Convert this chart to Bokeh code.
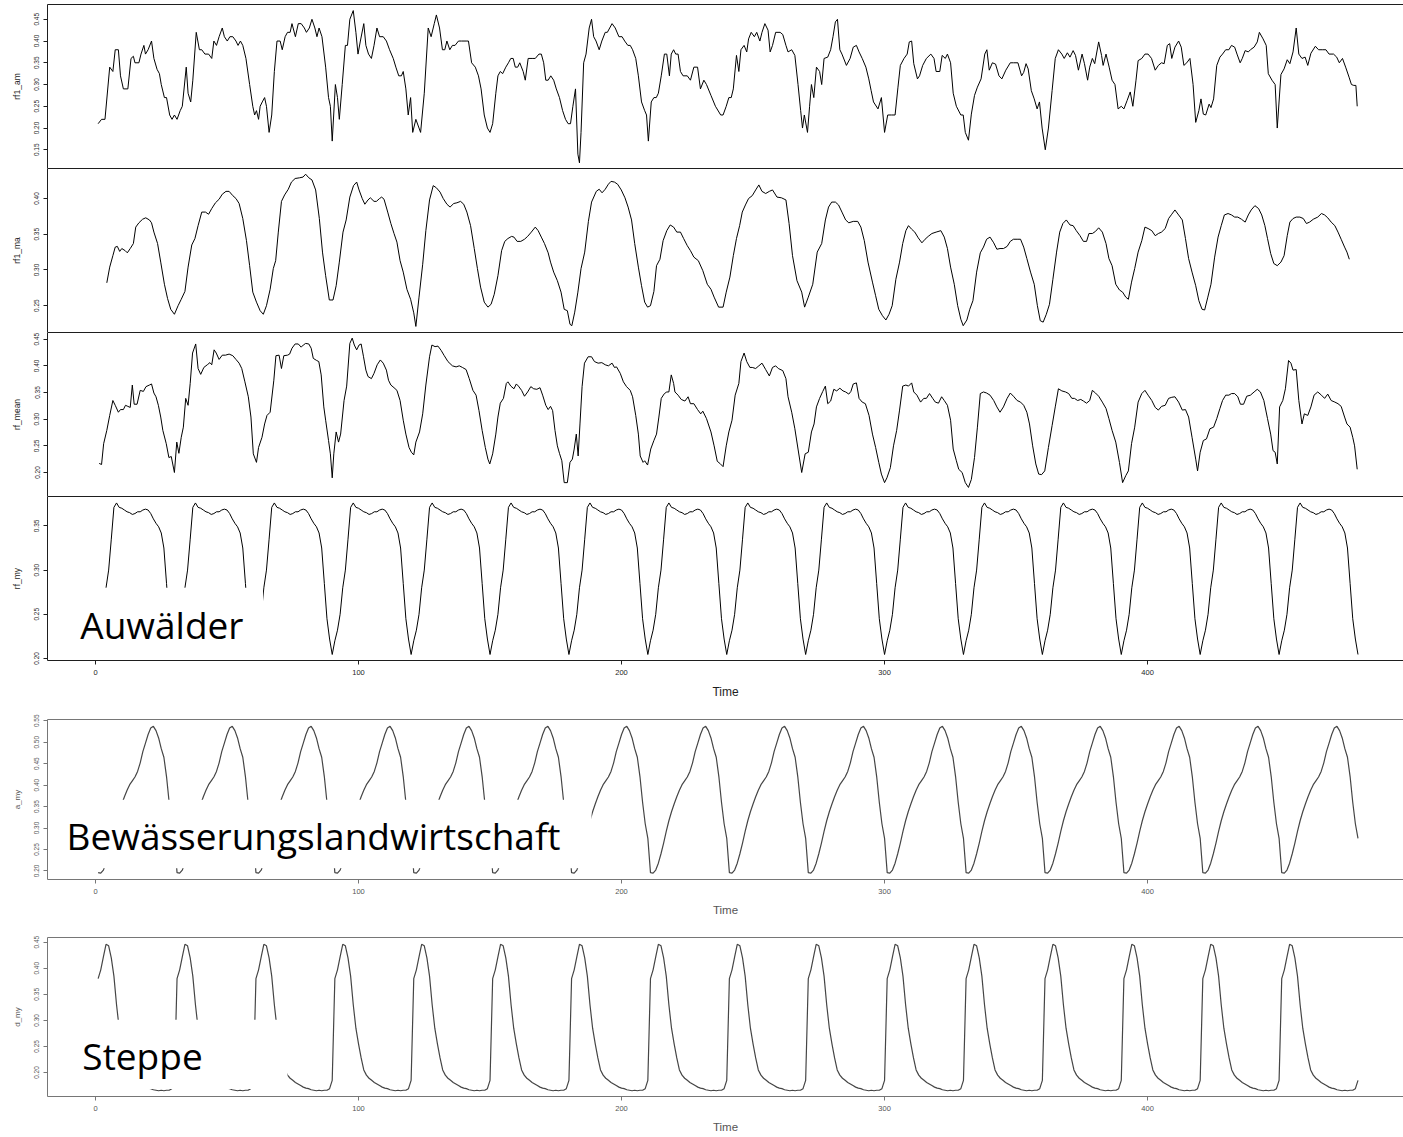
from bokeh.plotting import figure
from bokeh.layouts import column
from bokeh.models import Range1d, FixedTicker, BoxAnnotation, Label, PrintfTickFormatter, LinearAxis
from bokeh.embed import file_html
from bokeh.resources import INLINE
from bokeh.core.properties import value

# ---------------- data ----------------
# (time, value) pairs traced from the irregular series
rf1_am_pts = [
    (1,0.21),(2.3,0.22),(3.6,0.22),(5.4,0.34),(6.6,0.33),(7.5,0.38),(8.7,0.38),(9.5,0.32),(10.6,0.29),(12.3,0.29),
    (13.5,0.36),(14.4,0.365),(15,0.35),(16.5,0.35),(17.3,0.37),(18.4,0.39),(19,0.37),(20,0.38),(21.3,0.40),(22.2,0.36),
    (23.4,0.335),(24.3,0.325),(25,0.30),(26.2,0.27),(27,0.27),(28.2,0.23),(29.1,0.22),(30,0.23),(31,0.22),(32.2,0.24),
    (33,0.25),(34.5,0.34),(35.2,0.28),(36.2,0.26),(37,0.31),(38.3,0.42),(39.5,0.38),(40.4,0.38),(41.6,0.37),(43,0.37),
    (44.2,0.36),(45,0.40),(46,0.39),(47,0.41),(48.2,0.43),(49,0.41),(50.1,0.40),(51.1,0.41),(52.2,0.41),(53.4,0.40),
    (54.2,0.39),(55.1,0.40),(56,0.39),(57.2,0.36),(58.6,0.30),(59.8,0.25),(60.5,0.23),(61.2,0.24),(62,0.22),(62.6,0.25),
    (63.4,0.26),(64.3,0.27),(65,0.25),(66,0.19),(67,0.23),(68,0.33),(69,0.40),(70.2,0.40),(71,0.38),(72.1,0.41),
    (73,0.42),(74,0.42),(74.7,0.44),(76,0.41),(77.1,0.44),(78.2,0.44),(79.4,0.43),(80.2,0.42),(81.3,0.43),(82.3,0.45),
    (83.4,0.43),(84.2,0.41),(85,0.43),(86.1,0.41),(87.5,0.34),(88.6,0.27),(89.3,0.25),(90,0.17),(91.2,0.30),(92,0.27),
    (92.7,0.22),(93.8,0.30),(95,0.39),(95.8,0.39),(96.7,0.45),(98,0.47),(99,0.42),(99.8,0.37),(100.7,0.40),(102,0.44),
    (102.8,0.39),(103.8,0.37),(104.9,0.36),(105.9,0.39),(107,0.43),(108,0.41),(109.4,0.41),(110.6,0.40),(111.8,0.38),(113.2,0.36),
    (114.2,0.34),(115.3,0.32),(116.3,0.32),(117,0.33),(118,0.29),(118.9,0.23),(119.8,0.27),(120.6,0.19),(121.8,0.22),(123.6,0.19),
    (125,0.28),(126.5,0.43),(127.6,0.41),(128.8,0.44),(129.6,0.46),(130.8,0.43),(131.9,0.38),(132.8,0.38),(133.6,0.40),(134.7,0.38),
    (135.7,0.39),(136.7,0.39),(138,0.40),(139.2,0.40),(140.9,0.40),(141.8,0.40),(143,0.35),(144.4,0.34),(145.6,0.32),(146.6,0.29),
    (147.8,0.23),(149,0.20),(150,0.19),(151,0.21),(152.2,0.28),(153,0.32),(153.9,0.33),(154.8,0.325),(156,0.34),(157,0.35),
    (157.9,0.36),(158.8,0.36),(159.6,0.34),(160.5,0.34),(161.3,0.35),(162.6,0.33),(163.4,0.31),(164.5,0.36),(166,0.36),(167.2,0.36),
    (168.6,0.37),(169.5,0.37),(170.4,0.35),(171.2,0.31),(172.1,0.31),(173.1,0.32),(174.2,0.31),(175.2,0.29),(176.4,0.27),(177.6,0.24),
    (178.7,0.22),(179.7,0.21),(180.6,0.21),(181.5,0.25),(182.5,0.29),(183.4,0.14),(184,0.12),(184.6,0.19),(185.6,0.35),(186.5,0.37),
    (187.7,0.43),(188.6,0.45),(189.4,0.41),(190.3,0.40),(191.5,0.38),(192.5,0.40),(193.8,0.42),(194.6,0.42),(195.5,0.43),(196.4,0.44),
    (197.6,0.43),(199,0.41),(200.2,0.41),(201.2,0.40),(202.4,0.39),(203.3,0.39),(204.2,0.38),(205.4,0.36),(206.4,0.32),(207.6,0.26),
    (208.8,0.24),(209.5,0.23),(210.2,0.17),(211.3,0.26),(212.3,0.27),(213.2,0.27),(214,0.28),(215.1,0.32),(216.3,0.37),(217.2,0.37),
    (218.2,0.32),(218.9,0.37),(219.8,0.38),(220.6,0.37),(221.5,0.37),(222.4,0.33),(223.4,0.32),(225,0.32),(226.2,0.31),
    (227.5,0.34),(228.9,0.34),(230,0.29),(231.3,0.31),(232.3,0.30),(234,0.275),(235.7,0.25),(237.7,0.23),(238.6,0.23),(239.8,0.25),
    (240.8,0.27),(241.7,0.27),(242.5,0.29),(243.7,0.367),(244.6,0.33),(245.4,0.38),(246.6,0.39),(247.6,0.375),(248.3,0.405),(249.3,0.42),
    (250.5,0.41),(251.4,0.42),(252.6,0.40),(253.4,0.42),(254.5,0.44),(255.7,0.425),(256.5,0.375),(257.4,0.39),(258.6,0.42),(260.3,0.42),
    (261.3,0.415),(262.5,0.39),(263.3,0.375),(264.7,0.38),(265.9,0.367),(267.1,0.30),(268.1,0.24),(268.8,0.20),(269.5,0.23),(270.7,0.19),
    (271.5,0.25),(272.2,0.30),(273.1,0.27),(274.1,0.34),(275.3,0.33),(276.1,0.30),(277,0.36),(278.4,0.363),(279.5,0.38),(280.4,0.41),
    (281.3,0.444),(282.1,0.45),(283,0.38),(283.8,0.37),(285.5,0.344),(286.9,0.36),(288.1,0.386),(289.3,0.39),(290.3,0.375),(291.5,0.36),
    (292.9,0.34),(294,0.313),(294.9,0.286),(295.8,0.26),(297.5,0.244),(298.8,0.27),(300,0.19),(301.2,0.23),(302.6,0.23),(304,0.23),
    (305.1,0.294),(306,0.344),(307.4,0.36),(308.6,0.37),(309.4,0.398),(310.3,0.40),(311.1,0.348),(312.5,0.313),(313.3,0.32),(314.5,0.344),
    (315.9,0.36),(317.6,0.37),(318.8,0.36),(319.6,0.33),(321,0.33),(321.9,0.367),(323.1,0.36),(323.9,0.37),(325.1,0.35),(326.1,0.28),
    (327.3,0.25),(329,0.23),(329.9,0.23),(330.7,0.19),(331.9,0.172),(333,0.232),(334.2,0.275),(335.3,0.294),(336.7,0.313),(338.1,0.37),
    (338.9,0.38),(339.8,0.333),(341,0.35),(342.2,0.347),(343.5,0.32),(344.6,0.313),(346.1,0.333),(347.8,0.35),(349,0.35),(350.7,0.35),
    (352.1,0.32),(352.9,0.328),(353.8,0.348),(354.6,0.336),(355.8,0.286),(356.9,0.267),(358,0.244),(358.9,0.26),(359.9,0.20),(361.1,0.15),
    (362.3,0.20),(363.7,0.286),(364.9,0.36),(366.1,0.38),(367.4,0.37),(368.3,0.36),(369.5,0.373),(370.5,0.363),(371.7,0.378),(372.6,0.367),
    (373.7,0.333),(375.1,0.37),(376,0.348),(377.2,0.31),(378,0.34),(379,0.36),(379.9,0.348),(381.4,0.398),(382.5,0.367),(383.1,0.344),
    (384.2,0.37),(385.4,0.34),(386.5,0.31),(387.6,0.30),(388.8,0.244),(390,0.25),(391,0.244),(392.2,0.263),(393.4,0.283),(394.4,0.25),
    (395.6,0.31),(396.4,0.355),(397.8,0.36),(399,0.37),(400.2,0.37),(401.5,0.36),(402.9,0.333),(404.1,0.344),(405.3,0.35),(406.3,0.348),
    (407.5,0.39),(408.4,0.394),(409.2,0.36),(410.4,0.386),(411.8,0.40),(412.8,0.386),(413.8,0.344),(414.9,0.35),(416.1,0.36),(417.3,0.30),
    (418.3,0.213),(419.5,0.24),(420.3,0.267),(421.2,0.232),(422.1,0.23),(423.4,0.255),(424.1,0.247),(425.1,0.267),(426.3,0.344),(427.5,0.363),
    (428.5,0.37),(429.7,0.38),(430.9,0.38),(431.9,0.39),(433.1,0.386),(434,0.37),(435.2,0.35),(436,0.36),(437.1,0.378),(438.3,0.375),
    (439.1,0.38),(440.5,0.386),(441.7,0.398),(442.5,0.42),(443.9,0.405),(445.1,0.39),(445.9,0.325),(447.3,0.31),(448.5,0.30),(449.3,0.20),
    (450.7,0.323),(451.9,0.336),(453.1,0.357),(454.1,0.348),(455.3,0.375),(456.5,0.43),(457.5,0.37),(458.7,0.36),(459.9,0.363),(460.9,0.344),
    (462.1,0.372),(463.8,0.388),(465,0.38),(466.4,0.38),(467.8,0.38),(469,0.37),(470.7,0.37),(471.9,0.363),(472.9,0.35),(474.1,0.36),
    (475.3,0.34),(476.6,0.317),(477.5,0.30),(478.4,0.298),(479.2,0.298),(479.7,0.25),
]

rf1_ma_pts = [
    (4.3,0.282),(5.4,0.304),(6.6,0.32),(7.5,0.332),(8.3,0.333),(9.2,0.326),(10,0.33),(11.3,0.327),(12.1,0.324),(13.2,0.33),
    (14.4,0.337),(15.3,0.36),(16.5,0.366),(17.9,0.371),(19.1,0.373),(20.5,0.37),(21.3,0.366),(22.2,0.353),(23.6,0.337),(24.8,0.311),
    (26.2,0.28),(27.4,0.26),(28.6,0.245),(30,0.238),(31.4,0.25),(32.6,0.259),(34,0.27),(35.2,0.304),(36.6,0.335),(37.8,0.344),
    (39,0.362),(40.4,0.381),(41.8,0.381),(43,0.378),(44.2,0.386),(45.6,0.394),(47,0.399),(48.2,0.406),(49.6,0.41),(50.8,0.41),
    (52.2,0.404),(53.4,0.40),(54.6,0.393),(56,0.372),(57.4,0.341),(58.6,0.306),(59.8,0.269),(61.2,0.255),(62.6,0.243),(63.8,0.238),
    (65,0.25),(66.4,0.273),(67.6,0.302),(68.5,0.313),(69.5,0.353),(70.7,0.396),(71.9,0.405),(73.3,0.413),(74.5,0.423),(75.9,0.428),
    (77.6,0.429),(78.9,0.43),(79.9,0.434),(81.1,0.429),(82.3,0.426),(83.7,0.412),(85.1,0.372),(86.3,0.325),(87.5,0.292),(88.9,0.258),
    (90.3,0.258),(91.5,0.278),(92.7,0.311),(94.1,0.353),(95.3,0.37),(96.7,0.402),(98.1,0.418),(99.3,0.423),(100.2,0.412),(101.4,0.40),
    (102.4,0.392),(103.6,0.398),(104.5,0.401),(105.9,0.396),(106.8,0.396),(108,0.40),(108.8,0.402),(109.7,0.399),(111.1,0.381),(112.3,0.365),
    (113.5,0.351),(114.6,0.339),(115.8,0.313),(117,0.297),(118.4,0.273),(119.8,0.259),(121,0.24),(121.8,0.221),(123,0.262),(124.4,0.308),
    (125.6,0.355),(127,0.398),(128.4,0.418),(129.6,0.415),(131,0.409),(132.2,0.40),(133.6,0.392),(134.8,0.388),(136.2,0.393),(137.4,0.394),
    (138.8,0.396),(140,0.392),(141.2,0.381),(142.6,0.362),(144,0.33),(145.2,0.302),(146.4,0.276),(147.8,0.255),(149.2,0.248),(150.4,0.252),
    (151.6,0.266),(153,0.292),(154.4,0.327),(155.6,0.34),(156.8,0.344),(158.2,0.347),(159.1,0.346),(160.3,0.34),(161.7,0.34),(163.1,0.343),
    (164.3,0.347),(165.7,0.353),(167.2,0.36),(168.3,0.355),(169.5,0.346),(170.7,0.337),(172.1,0.324),(173,0.311),(174.2,0.297),(175.6,0.285),
    (177,0.269),(178.2,0.245),(179.4,0.243),(180.4,0.224),(181.1,0.222),(182.2,0.241),(183.4,0.269),(184.6,0.302),(186,0.325),(187.4,0.368),
    (188.6,0.395),(190.4,0.41),(191.5,0.413),(192.6,0.408),(193.8,0.413),(195,0.42),(196,0.424),(197.3,0.423),(198.5,0.42),(199.9,0.412),
    (201.3,0.401),(202.5,0.388),(203.8,0.37),(205,0.337),(206.4,0.304),(207.6,0.278),(208.8,0.255),(209.9,0.248),(211,0.25),(212.3,0.27),
    (213.3,0.306),(214.6,0.315),(215.8,0.341),(217.2,0.355),(218.5,0.363),(219.8,0.36),(221,0.353),(222.4,0.353),(223.6,0.344),(225,0.334),
    (226.2,0.327),
    (227.5,0.318),(229.2,0.313),(230.9,0.299),(232.6,0.28),(234,0.273),(235.2,0.262),(236.9,0.248),(238.6,0.248),(239.8,0.269),(241.2,0.29),
    (242.5,0.32),(243.7,0.344),(244.9,0.362),(245.9,0.381),(247.1,0.391),(248.3,0.40),(249.7,0.404),(251,0.412),(252.2,0.419),(253.4,0.41),
    (254.8,0.407),(256.2,0.41),(257.4,0.412),(259.1,0.402),(260.8,0.401),(262.5,0.398),(263.7,0.365),(265,0.32),(266.7,0.285),(268.5,0.269),
    (269.6,0.248),(271,0.262),(272.7,0.28),(274.4,0.325),(276.1,0.337),(277.5,0.37),(278.7,0.388),(279.9,0.395),(281.3,0.395),(282.5,0.391),
    (283.8,0.381),(285.2,0.37),(286.4,0.366),(288.1,0.368),(289.8,0.368),(291,0.36),(292.3,0.341),(293.7,0.311),(295.4,0.283),(296.6,0.264),
    (297.8,0.245),(299.2,0.236),(300.5,0.23),(301.7,0.238),(302.9,0.25),(304.3,0.287),(305.7,0.311),(306.9,0.337),(308.1,0.355),(309.1,0.362),
    (310.3,0.357),(311.5,0.353),(312.8,0.345),(314.2,0.338),(315.4,0.343),(316.6,0.347),(318,0.351),(319.6,0.353),(321.4,0.355),(322.7,0.346),
    (323.9,0.33),(325.1,0.304),(326.5,0.28),(327.8,0.25),(329,0.231),(329.9,0.222),(331.3,0.23),(332.4,0.245),(333.6,0.257),(335,0.297),
    (336.4,0.324),(337.6,0.332),(338.8,0.343),(340.1,0.346),(341.5,0.338),(342.7,0.329),(343.9,0.33),(345.2,0.33),(346.6,0.333),(347.8,0.34),
    (349,0.343),(350.4,0.343),(351.7,0.343),(352.9,0.332),(354.1,0.316),(355.5,0.297),(356.9,0.28),(358.1,0.25),(359.2,0.229),(360.3,0.227),
    (361.5,0.238),(362.7,0.252),(364,0.287),(365.4,0.325),(366.6,0.353),(367.8,0.365),(369.1,0.37),(370.5,0.363),(371.7,0.362),(372.9,0.355),
    (374.3,0.348),(375.6,0.34),(376.8,0.34),(377.7,0.351),(379,0.351),(380.2,0.354),(381.4,0.359),(382.8,0.353),(384.2,0.337),(385.3,0.316),
    (386.5,0.306),(387.9,0.28),(389.3,0.272),(390.5,0.269),(391.7,0.262),(392.7,0.259),(393.9,0.283),(395.1,0.302),(396.4,0.325),(397.8,0.341),
    (399,0.36),(400.2,0.358),(401.6,0.355),(402.9,0.348),(404.1,0.351),(405.3,0.353),(406.7,0.358),(408,0.372),(409.2,0.378),(410.4,0.384),
    (411.8,0.377),(413.2,0.37),(414.4,0.344),(415.6,0.316),(416.9,0.297),(418.3,0.278),(419.5,0.257),(420.7,0.245),(421.7,0.244),(422.9,0.262),
    (424.1,0.28),(425.5,0.318),(426.8,0.346),(428,0.362),(429.2,0.377),(430.6,0.379),(431.9,0.377),(433.1,0.374),(434.3,0.374),(435.7,0.371),
    (437.1,0.367),(438.3,0.377),(439.4,0.384),(440.8,0.39),(442.2,0.386),(443.4,0.377),(444.6,0.362),(445.6,0.344),(446.8,0.323),(448,0.309),
    (449.3,0.306),(450.7,0.311),(451.9,0.32),(453.1,0.348),(454.1,0.367),(455.3,0.372),(456.5,0.374),(457.9,0.374),(459.2,0.372),(460.4,0.365),
    (461.6,0.367),(463,0.371),(464.7,0.374),(466.1,0.379),(467.3,0.377),(468.5,0.373),(469.8,0.367),(471.2,0.362),(472.4,0.353),(473.6,0.343),
    (474.9,0.332),(475.8,0.325),(476.7,0.315),
]

rf_mean_pts = [
    (1.4,0.217),(2.3,0.215),(3.1,0.254),(4.3,0.279),(5.4,0.307),(6.6,0.335),(7.5,0.326),(8.7,0.313),(9.5,0.318),(10.6,0.318),
    (11.4,0.326),(12.3,0.324),(13.2,0.322),(14,0.364),(14.7,0.328),(15.8,0.328),(17,0.354),(18.2,0.352),(19.2,0.361),(20.5,0.364),
    (21.3,0.366),(22.2,0.349),(23,0.342),(23.9,0.326),(24.8,0.304),(25.6,0.279),(26.9,0.254),(27.9,0.228),(28.8,0.23),(30,0.20),
    (30.9,0.257),(31.7,0.236),(32.6,0.266),(33.4,0.285),(34.3,0.339),(35.2,0.326),(36,0.367),(36.9,0.424),(38.1,0.441),(39,0.395),
    (40,0.384),(41.2,0.397),(42.5,0.402),(43.5,0.406),(44.2,0.402),(45.1,0.43),(45.9,0.424),(47,0.412),(48.2,0.42),(49.4,0.42),
    (50.8,0.422),(52.2,0.419),(53.4,0.412),(54.6,0.405),(55.6,0.395),(56.8,0.37),(58.1,0.342),(59.1,0.304),(60,0.235),(61.2,0.219),
    (62,0.247),(63.3,0.266),(64.3,0.291),(65.2,0.307),(66.4,0.313),(67.8,0.373),(68.6,0.419),(69.8,0.42),(70.7,0.395),(71.6,0.419),
    (73,0.42),(73.8,0.422),(74.7,0.433),(75.9,0.441),(77.1,0.441),(78.2,0.435),(79,0.439),(79.9,0.442),(81.1,0.441),(82,0.433),
    (82.8,0.414),(84.1,0.41),(84.9,0.408),(85.8,0.383),(86.8,0.323),(87.5,0.298),(88.6,0.26),(89.3,0.235),(90,0.19),(90.6,0.235),
    (91.5,0.276),(92.4,0.257),(93.2,0.272),(94.5,0.335),(95.5,0.362),(96.7,0.442),(97.6,0.452),(98.4,0.439),(99.3,0.43),(100.2,0.439),
    (101,0.441),(101.9,0.417),(102.8,0.392),(103.6,0.38),(104.9,0.376),(105.9,0.386),(107.1,0.402),(108.3,0.411),(109.4,0.405),(110.6,0.392),
    (111.4,0.373),(112.3,0.364),(113.5,0.359),(114.6,0.354),(115.8,0.335),(117,0.298),(118,0.272),(119.2,0.247),(120.1,0.238),(121,0.233),
    (121.8,0.257),(123.2,0.276),(124.4,0.31),(125.6,0.364),(127,0.417),(127.9,0.439),(129.1,0.436),(130.2,0.437),(131.4,0.429),(132.6,0.419),
    (134,0.408),(135.7,0.40),(137.1,0.398),(138.3,0.40),(139.5,0.397),(140.9,0.393),(142.1,0.376),(143.5,0.354),(144.7,0.345),(145.8,0.316),
    (147,0.279),(148.2,0.247),(149.2,0.225),(149.9,0.216),(151,0.235),(152.2,0.272),(153,0.304),(153.9,0.33),(155.1,0.339),(156.2,0.367),
    (156.8,0.37),(157.9,0.362),(159.1,0.357),(160,0.366),(160.8,0.362),(162,0.354),(163.1,0.343),(164.3,0.351),(165.5,0.361),(166.6,0.357),
    (167.8,0.356),(169,0.359),(170,0.345),(171.2,0.326),(172.1,0.318),(173,0.324),(173.8,0.316),(174.7,0.279),(175.6,0.25),(176.4,0.236),
    (177.3,0.222),(178.2,0.181),(179.4,0.181),(180.4,0.219),(181.3,0.225),(182,0.244),(182.8,0.272),(183.5,0.231),(184.2,0.291),(185,0.361),
    (185.9,0.405),(187.3,0.417),(188.6,0.417),(189.7,0.408),(191.1,0.405),(192.5,0.406),(193.8,0.402),(195,0.40),(196.4,0.405),(197.3,0.397),
    (198.1,0.398),(199.5,0.386),(200.7,0.37),(201.9,0.361),(203.3,0.354),(204.2,0.342),(205.4,0.307),(206.4,0.272),(207.1,0.231),(208.2,0.219),
    (208.8,0.222),(209.9,0.214),(211.1,0.244),(212.3,0.26),(213.3,0.272),(214.2,0.304),(215.1,0.339),(216.3,0.348),(217.2,0.351),(218,0.351),
    (218.9,0.383),(219.8,0.367),(220.3,0.351),(221.5,0.345),(222.7,0.337),(224.1,0.334),(225.3,0.342),(226.2,0.329),
    (227.5,0.329),(228.9,0.318),(230.1,0.31),(230.9,0.315),(232.3,0.301),(234,0.276),(235.2,0.25),(236.4,0.221),(237.4,0.217),(238.6,0.211),
    (239.8,0.25),(240.8,0.276),(242,0.298),(243.2,0.345),(244.6,0.367),(245.4,0.408),(246.6,0.424),(247.6,0.408),(248.8,0.397),(249.7,0.397),
    (251,0.395),(252.2,0.40),(253.4,0.405),(254.8,0.393),(256.2,0.381),(257.4,0.397),(258.6,0.40),(259.6,0.395),(261.3,0.391),(262.5,0.376),
    (263.3,0.342),(264.7,0.313),(265.9,0.282),(267.1,0.244),(268.5,0.20),(269.8,0.235),(271,0.238),(272.2,0.276),(273.2,0.291),(274.1,0.323),
    (275.3,0.339),(276.5,0.352),(277.5,0.362),(278.4,0.329),(279.5,0.334),(280.7,0.356),(281.8,0.353),(283,0.358),(284.2,0.353),(285.2,0.351),
    (286.4,0.347),(287.2,0.352),(288.1,0.366),(289.3,0.368),(290.3,0.339),(291.5,0.332),(292.7,0.329),(294.1,0.307),(295.4,0.272),(296.6,0.247),
    (297.8,0.219),(298.8,0.197),(300,0.181),(300.9,0.19),(302.2,0.209),(303.4,0.25),(304.6,0.279),(305.7,0.317),(306.9,0.362),(308.1,0.364),
    (309.1,0.362),(310.3,0.368),(311.1,0.351),(312.3,0.345),(313.7,0.332),(314.9,0.339),(315.9,0.339),(317.1,0.348),(318.3,0.339),(319.3,0.332),
    (320.5,0.33),(321.7,0.342),(322.7,0.335),(323.9,0.326),(325.1,0.298),(326.1,0.244),(327.3,0.222),(328.2,0.206),(329.5,0.20),(330.7,0.181),
    (331.9,0.172),(333,0.187),(334.2,0.228),(335.3,0.285),(336.4,0.348),(337.6,0.351),(338.8,0.349),(340.1,0.345),(341.5,0.335),(342.7,0.323),
    (343.9,0.313),(345.2,0.323),(346.6,0.339),(347.8,0.349),(349,0.343),(350.4,0.335),(351.7,0.332),(352.9,0.326),(354.1,0.313),(355.1,0.291),
    (356.3,0.25),(357.5,0.216),(358.6,0.197),(359.7,0.196),(360.9,0.203),(362.3,0.247),(363.7,0.288),(364.9,0.323),(366.1,0.357),(367.4,0.353),
    (368.8,0.351),(370,0.348),(371.2,0.339),(372.2,0.339),(373.4,0.335),(374.6,0.337),(375.6,0.334),(376.8,0.33),(378,0.335),(379,0.354),
    (380.2,0.349),(381.4,0.343),(382.8,0.332),(384.2,0.32),(385.3,0.301),(386.5,0.279),(387.9,0.257),(389.3,0.219),(390.5,0.181),(391.7,0.194),
    (392.7,0.203),(393.9,0.254),(395.1,0.285),(396.4,0.332),(397.8,0.348),(399,0.354),(400.2,0.345),(401.6,0.335),(402.9,0.322),(404.1,0.317),
    (405.3,0.324),(406.7,0.326),(408,0.339),(409.2,0.341),(410.4,0.342),(411.8,0.332),(413.2,0.317),(414.4,0.318),(415.6,0.304),(416.9,0.266),
    (418.3,0.225),(419,0.203),(420,0.238),(421.2,0.26),(422.4,0.263),(423.7,0.282),(425.1,0.285),(426.3,0.301),(427.5,0.32),(428.5,0.335),
    (429.7,0.345),(430.9,0.345),(431.9,0.348),(433.1,0.348),(434.3,0.342),(435.3,0.328),(436.5,0.328),(437.7,0.343),(439.1,0.345),(440.5,0.351),
    (441.7,0.356),(442.9,0.351),(444.2,0.335),(445.6,0.301),(446.8,0.272),(447.7,0.241),(448.5,0.238),(449.3,0.216),(450.2,0.323),(451.4,0.335),
    (452.4,0.357),(453.6,0.41),(454.5,0.405),(455.3,0.392),(456.5,0.393),(457.5,0.335),(458.7,0.291),(459.6,0.31),(460.9,0.307),(462.1,0.323),
    (463.3,0.345),(464.7,0.351),(466.1,0.345),(467.3,0.339),(468.5,0.347),(469.8,0.335),(471.2,0.332),(472.4,0.329),(473.6,0.324),(474.9,0.304),
    (475.8,0.291),(477,0.285),(478,0.266),(478.7,0.25),(479.7,0.206),
]

# multi-year mean series: one 30-step cycle each (index = time mod 30)
rf_my_cycle = [0.2045, 0.220, 0.232, 0.250, 0.280, 0.300, 0.335, 0.371, 0.376, 0.371,
               0.370, 0.368, 0.366, 0.365, 0.363, 0.364, 0.366, 0.366, 0.368, 0.369,
               0.368, 0.364, 0.358, 0.353, 0.349, 0.342, 0.325, 0.285, 0.245, 0.222]
a_my_cycle = [0.276, 0.196, 0.195, 0.202, 0.218, 0.240, 0.265, 0.292, 0.317, 0.338,
              0.356, 0.373, 0.388, 0.401, 0.410, 0.419, 0.432, 0.452, 0.478, 0.498,
              0.518, 0.533, 0.537, 0.527, 0.510, 0.485, 0.465, 0.420, 0.360, 0.310]
d_my_cycle = [0.185, 0.380, 0.397, 0.422, 0.446, 0.443, 0.420, 0.385, 0.330, 0.285,
              0.255, 0.228, 0.205, 0.195, 0.189, 0.185, 0.181, 0.178, 0.175, 0.172,
              0.170, 0.169, 0.167, 0.166, 0.165, 0.166, 0.165, 0.166, 0.166, 0.169]

time = list(range(1, 481))
rf_my = [rf_my_cycle[t % 30] for t in time]
a_my = [a_my_cycle[t % 30] for t in time]
d_my = [d_my_cycle[t % 30] for t in time]

rf1_am_t = [p[0] for p in rf1_am_pts]; rf1_am = [p[1] for p in rf1_am_pts]
rf1_ma_t = [p[0] for p in rf1_ma_pts]; rf1_ma = [p[1] for p in rf1_ma_pts]
rf_mean_t = [p[0] for p in rf_mean_pts]; rf_mean = [p[1] for p in rf_mean_pts]

x_ticks = [0, 100, 200, 300, 400]

# ---------------- figures ----------------
W = 1403
X_START, X_END = -18.25, 497.3
shared_x = Range1d(X_START, X_END)
FONT = "Liberation Sans"


def make_fig(height, top, bottom, ylabel, yr, yticks, dark, show_x, x_range):
    fg = "#1e1e1e" if dark else "#767676"
    txt = "#1e1e1e" if dark else "#555555"
    p = figure(width=W, height=height, output_backend="svg", toolbar_location=None,
               x_range=x_range, y_range=Range1d(*yr),
               x_axis_location="below" if show_x else None,
               min_border_left=47, min_border_right=0,
               min_border_top=top, min_border_bottom=bottom)
    p.grid.visible = False
    p.outline_line_color = None
    p.background_fill_color = "white"
    p.border_fill_color = "white"
    ya = p.left[0]
    ya.ticker = FixedTicker(ticks=yticks)
    ya.formatter = PrintfTickFormatter(format="%.2f")
    ya.major_label_orientation = "vertical"
    ya.major_label_text_font = FONT
    ya.major_label_text_font_size = "6.5px"
    ya.major_label_text_color = txt
    ya.major_label_standoff = 4
    ya.major_tick_out = 4
    ya.major_tick_in = 0
    ya.minor_tick_line_color = None
    ya.major_tick_line_color = fg
    ya.axis_line_color = fg
    ya.axis_label = ylabel
    ya.axis_label_text_font = FONT
    ya.axis_label_text_font_size = "8.5px" if dark else "8px"
    ya.axis_label_text_font_style = "normal"
    ya.axis_label_text_color = txt
    ya.axis_label_standoff = 10
    if show_x:
        xa = p.below[0]
        xa.ticker = FixedTicker(ticks=x_ticks)
        xa.major_label_text_font = FONT
        xa.major_label_text_font_size = "7.5px"
        xa.major_label_text_color = txt
        xa.major_label_standoff = 5
        xa.major_tick_out = 4
        xa.major_tick_in = 0
        xa.minor_tick_line_color = None
        xa.major_tick_line_color = fg
        xa.axis_line_color = fg
        xa.axis_label = "Time"
        xa.axis_label_text_font = FONT
        xa.axis_label_text_font_size = "12px" if dark else "11.5px"
        xa.axis_label_text_font_style = "normal"
        xa.axis_label_text_color = txt
        xa.axis_label_standoff = 7
    # top frame line drawn as a bare axis (no ticks, no labels)
    top_ax = LinearAxis(ticker=FixedTicker(ticks=[]), axis_line_color=fg, axis_line_width=1,
                        major_tick_line_color=None, minor_tick_line_color=None,
                        major_label_text_font_size="0px", major_label_standoff=0,
                        major_tick_out=0, major_tick_in=0)
    p.add_layout(top_ax, "above")
    return p


p1 = make_fig(168, 4, 0, "rf1_am", (0.107, 0.484), [0.15, 0.20, 0.25, 0.30, 0.35, 0.40, 0.45], True, False, shared_x)
p1.line(rf1_am_t, rf1_am, line_color="black", line_width=1)

p2 = make_fig(164, 0, 0, "rf1_ma", (0.2125, 0.442), [0.25, 0.30, 0.35, 0.40], True, False, shared_x)
p2.line(rf1_ma_t, rf1_ma, line_color="black", line_width=1)

p3 = make_fig(164, 0, 0, "rf_mean", (0.155, 0.4625), [0.20, 0.25, 0.30, 0.35, 0.40, 0.45], True, False, shared_x)
p3.line(rf_mean_t, rf_mean, line_color="black", line_width=1)

p4 = make_fig(206, 0, 42, "rf_my", (0.1977, 0.3833), [0.20, 0.25, 0.30, 0.35], True, True, shared_x)
p4.line(time, rf_my, line_color="black", line_width=1)
p4.add_layout(BoxAnnotation(left=-17, right=63.7, bottom=0.1995, top=0.28,
                            fill_color="white", fill_alpha=1.0, line_color=None))
p4.add_layout(Label(x=-5.8, y=0.2384, text="Auwälder", text_font="Open Sans",
                    text_font_size="37px", text_color="black", text_baseline="alphabetic"))

pa = make_fig(217, 17, 40, "a_my", (0.18, 0.553), [0.20, 0.25, 0.30, 0.35, 0.40, 0.45, 0.50, 0.55],
              False, True, Range1d(X_START, X_END))
pa.line(time, a_my, line_color="#454545", line_width=1.2)
pa.add_layout(BoxAnnotation(left=-17, right=188.6, bottom=0.2065, top=0.366,
                            fill_color="white", fill_alpha=1.0, line_color=None))
pa.add_layout(Label(x=-11.0, y=0.2826, text="Bewässerungslandwirtschaft", text_font="Open Sans",
                    text_font_size="37px", text_color="black", text_baseline="alphabetic"))

pd_ = make_fig(216, 18, 37, "d_my", (0.154, 0.459), [0.20, 0.25, 0.30, 0.35, 0.40, 0.45],
               False, True, Range1d(X_START, X_END))
pd_.line(time, d_my, line_color="#454545", line_width=1.2)
pd_.add_layout(BoxAnnotation(left=-17, right=73, bottom=0.1685, top=0.301,
                             fill_color="white", fill_alpha=1.0, line_color=None))
pd_.add_layout(Label(x=-5.0, y=0.2322, text="Steppe", text_font="Open Sans",
                     text_font_size="37px", text_color="black", text_baseline="alphabetic"))

layout = column(p1, p2, p3, p4, pa, pd_, spacing=0)

with open("out.html", "w", encoding="utf-8") as f:
    f.write(file_html(layout, INLINE, title="Zeitreihen"))
